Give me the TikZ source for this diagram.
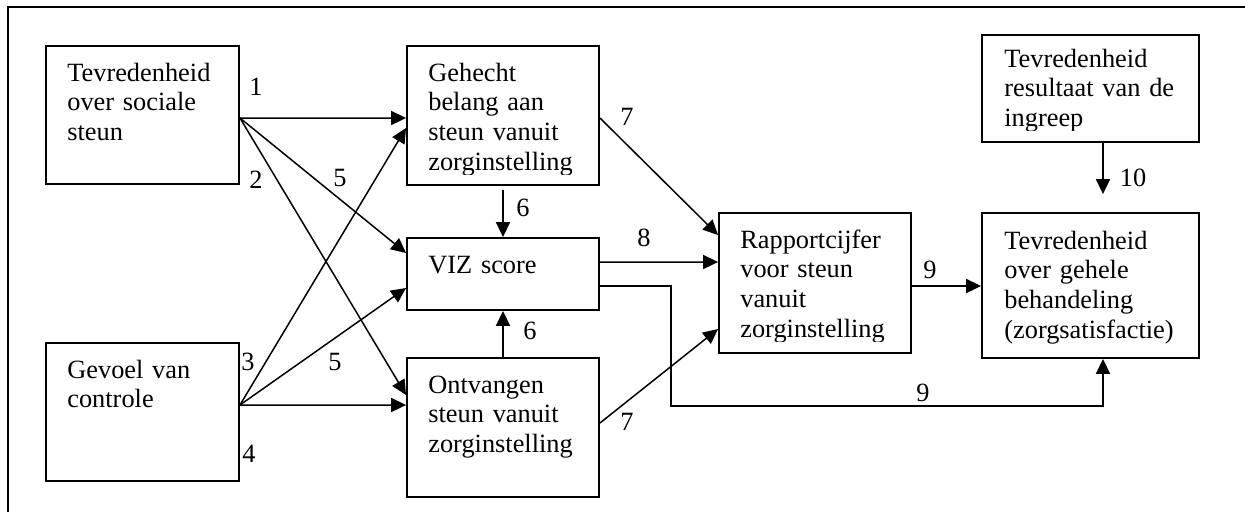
\documentclass[tikz,border=0pt]{standalone}
\usepackage{fontspec}
\setmainfont{Liberation Serif}
\usetikzlibrary{arrows.meta}
\tikzstyle{box} = [rectangle, draw=black, line width=1.1pt, inner sep=0pt]
\tikzstyle{txt} = [anchor=base west, align=left, text width=3.6cm, inner sep=0pt, font=\fontsize{15pt}{17pt}\selectfont]
\tikzstyle{num} = [inner sep=0pt, font=\fontsize{15pt}{17pt}\selectfont]
\tikzstyle{arrow} = [line width=0.85pt, -{Triangle[length=8.5pt, width=8pt]}]

\begin{document}
\begin{tikzpicture}[x=0.02cm, y=-0.02cm]
\useasboundingbox (0,0) rectangle (1245,512);
\draw [line width=1.1pt] (8,512) -- (8,7) -- (1245,7);

% boxes
\node (soc) [box, minimum width=3.86cm, minimum height=2.76cm] at (142.5,115) {};
\node (ctrl) [box, minimum width=3.86cm, minimum height=2.76cm] at (142.5,412) {};
\node (bel) [box, minimum width=3.84cm, minimum height=2.78cm] at (503,115.5) {};
\node (viz) [box, minimum width=3.84cm, minimum height=1.44cm] at (503,274) {};
\node (ontv) [box, minimum width=3.84cm, minimum height=2.78cm] at (503,427.5) {};
\node (rap) [box, minimum width=3.84cm, minimum height=2.8cm] at (815,283) {};
\node (res) [box, minimum width=4.34cm, minimum height=2.14cm] at (1090.5,88.5) {};
\node (zorg) [box, minimum width=4.34cm, minimum height=2.9cm] at (1090.5,285.5) {};

% texts
\node (socT) [txt] at (67,81) {Tevredenheid\\over sociale\\steun};
\node (ctrlT) [txt] at (67,378) {Gevoel van\\controle};
\begin{scope}
\clip (407,46) rectangle (599,174);
\node (belT) [txt] at (428,81) {Gehecht\\belang aan\\steun vanuit\\zorginstelling};
\end{scope}
\node (vizT) [txt] at (428,273) {VIZ score};
\node (ontvT) [txt] at (428,393) {Ontvangen\\steun vanuit\\zorginstelling};
\begin{scope}
\clip (719,213) rectangle (911,341);
\node (rapT) [txt] at (740,248) {Rapportcijfer\\voor steun\\vanuit\\zorginstelling};
\end{scope}
\begin{scope}
\clip (982,35) rectangle (1199,130);
\node (resT) [txt] at (1004,67) {Tevredenheid\\resultaat van de\\ingreep};
\end{scope}
\node (zorgT) [txt, text width=4cm] at (1004,249) {Tevredenheid\\over gehele\\behandeling\\(zorgsatisfactie)};

% connectors
\draw [arrow] ([yshift=-0.06cm]soc.east) -- ([yshift=-0.05cm]bel.west);
\draw [arrow] ([yshift=-0.06cm]soc.east) -- ([yshift=0.42cm]viz.west);
\draw [arrow] ([yshift=-0.06cm]soc.east) -- ([yshift=0.65cm]ontv.west);
\draw [arrow] ([yshift=0.14cm]ctrl.east) -- ([yshift=-0.25cm]bel.west);
\draw [arrow] ([yshift=0.14cm]ctrl.east) -- ([yshift=-0.28cm]viz.west);
\draw [arrow] ([yshift=0.14cm]ctrl.east) -- ([yshift=0.45cm]ontv.west);
\draw [arrow, shorten <=0.08cm] (bel.south) -- (viz.north);
\draw [arrow] (ontv.north) -- (viz.south);
\draw [arrow] ([yshift=-0.05cm]bel.east) -- ([yshift=0.96cm]rap.west);
\draw [arrow] ([yshift=0.24cm]viz.east) -- ([yshift=0.42cm]rap.west);
\draw [arrow] ([yshift=0.09cm]ontv.east) -- ([yshift=-0.92cm]rap.west);
\draw [arrow] ([yshift=-0.06cm]rap.east) -- ([yshift=-0.06cm]rap.east -| zorg.west);
\coordinate (bend) at (671,406);
\draw [arrow] ([yshift=-0.24cm]viz.east) -| (bend) -| ([xshift=0.25cm]zorg.south);
\draw [arrow, shorten >=0.36cm] ([xshift=0.25cm]res.south) -- ([xshift=0.25cm]zorg.north);

% path numbers
\node (n1) [num] at (256,87) {1};
\node (n2) [num] at (256,180) {2};
\node (n5a) [num] at (340,178) {5};
\node (n3) [num] at (248,362) {3};
\node (n5b) [num] at (335,362) {5};
\node (n4) [num] at (249,454) {4};
\node (n6a) [num] at (523,208) {6};
\node (n6b) [num] at (530,331) {6};
\node (n7a) [num] at (627,117) {7};
\node (n8) [num] at (644,238) {8};
\node (n7b) [num] at (627,422) {7};
\node (n9a) [num] at (930,270) {9};
\node (n9b) [num] at (923,393) {9};
\node (n10) [num] at (1133,178) {10};

\end{tikzpicture}
\end{document}
